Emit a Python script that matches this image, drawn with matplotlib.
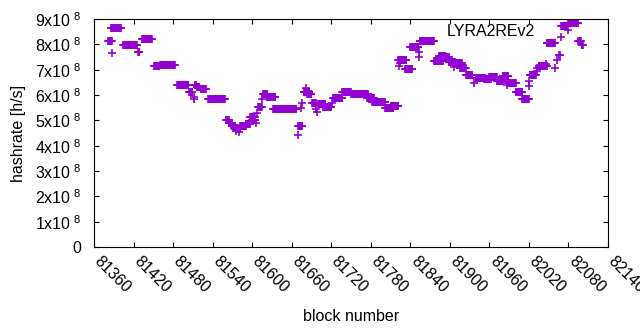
import matplotlib
matplotlib.use('Agg')
import matplotlib.pyplot as plt
import matplotlib.transforms as mtransforms
import numpy as np

plt.rcParams['font.family'] = ['Liberation Sans', 'DejaVu Sans']
plt.rcParams['font.size'] = 11.5

# участки с одинаковым хешрейтом: первый блок, последний блок, хешрейт (x1e8 h/s)
seg_first = [81382, 81388, 81386, 81404, 81427, 81433, 81451, 81460, 81486, 81504,
             81511, 81511, 81513, 81516, 81522, 81533, 81561, 81565, 81569, 81573,
             81575, 81578, 81580, 81582, 81590, 81597, 81600, 81606, 81608, 81609,
             81615, 81617, 81622, 81632, 81670, 81670, 81674, 81676, 81678, 81681,
             81683, 81691, 81697, 81698, 81700, 81708, 81721, 81723, 81737, 81750,
             81775, 81782, 81802, 81810, 81822, 81823, 81824, 81832, 81840, 81853,
             81853, 81854, 81876, 81883, 81886, 81898, 81907, 81908, 81916, 81925,
             81936, 81939, 81952, 81960, 81971, 81980, 81987, 81989, 82000, 82010,
             82020, 82020, 82021, 82032, 82033, 82035, 82046, 82047, 82060, 82063,
             82066, 82069, 82069, 82080, 82095, 82100]
seg_last = [81387, 81388, 81401, 81425, 81429, 81448, 81459, 81483, 81503, 81509,
            81511, 81511, 81515, 81520, 81530, 81559, 81565, 81569, 81574, 81578,
            81575, 81582, 81580, 81590, 81596, 81604, 81605, 81606, 81608, 81615,
            81615, 81623, 81635, 81667, 81676, 81670, 81674, 81676, 81687, 81681,
            81690, 81697, 81697, 81698, 81711, 81720, 81721, 81737, 81750, 81776,
            81785, 81801, 81814, 81822, 81834, 81823, 81824, 81843, 81852, 81853,
            81853, 81876, 81889, 81893, 81898, 81908, 81907, 81918, 81924, 81934,
            81936, 81954, 81962, 81971, 81980, 81989, 81987, 82000, 82010, 82020,
            82020, 82020, 82030, 82032, 82033, 82047, 82046, 82059, 82060, 82063,
            82067, 82069, 82078, 82094, 82099, 82102]
seg_rate = [8.13, 7.66, 8.64, 7.98, 7.70, 8.21, 7.14, 7.19, 6.40, 6.10,
            5.94, 5.85, 6.40, 6.31, 6.23, 5.84, 5.00, 4.91, 4.78, 4.71,
            4.56, 4.66, 4.55, 4.79, 4.86, 5.13, 5.00, 4.90, 5.28, 5.51,
            5.84, 6.05, 5.93, 5.44, 4.79, 4.43, 5.49, 5.70, 6.10, 6.27,
            6.05, 5.68, 5.44, 5.31, 5.64, 5.51, 5.70, 5.89, 6.10, 6.03,
            5.90, 5.74, 5.48, 5.58, 7.39, 7.15, 7.26, 7.04, 7.89, 7.68,
            7.51, 8.15, 7.35, 7.52, 7.49, 7.32, 7.10, 7.28, 7.05, 6.80,
            6.47, 6.67, 6.62, 6.73, 6.55, 6.74, 6.40, 6.47, 6.13, 5.84,
            6.36, 6.57, 6.77, 6.93, 7.05, 7.13, 7.24, 8.04, 7.05, 7.40,
            7.59, 8.30, 8.73, 8.84, 8.15, 7.96]

x_ticks = list(range(81360, 82141, 60))
y_ticks = [k * 1e8 for k in range(10)]
y_labels = ['0'] + [r'$\mathregular{%dx10^{\ 8}}$' % k for k in range(1, 10)]

# один блок - одна точка
blocks = []
rates = []
for b0, b1, r in zip(seg_first, seg_last, seg_rate):
    for b in range(b0, b1 + 1):
        blocks.append(b)
        rates.append(r * 1e8)

fig = plt.figure(figsize=(6.4, 3.3), dpi=100)
ax = fig.add_axes([94 / 640, 1 - 247 / 330, 514 / 640, 228 / 330])

ax.plot(blocks, rates, '+', color='#9400D3', ms=5.2, mew=1.2, label='LYRA2REv2')

ax.set_xlim(81360, 82140)
ax.set_ylim(0, 9e8)
ax.set_xticks(x_ticks)
ax.set_xticklabels([])
# подписи оси X повёрнуты как в gnuplot
lab_tr = ax.get_xaxis_transform() + mtransforms.ScaledTranslation(
    8 / 100, -7 / 100, fig.dpi_scale_trans)
for t in x_ticks:
    ax.text(t, 0, str(t), transform=lab_tr, rotation=-45, ha='left', va='top',
            rotation_mode='anchor', clip_on=False)
ax.set_yticks(y_ticks)
ax.set_yticklabels(y_labels)
ax.tick_params(direction='in', length=3.3, width=0.8, top=True, right=True)
ax.tick_params(axis='y', pad=9)
for s in ax.spines.values():
    s.set_linewidth(0.8)

ax.set_xlabel('block number')
ax.xaxis.set_label_coords(0.5, -0.27)
ax.set_ylabel('hashrate [h/s]', labelpad=7)

ax.legend(loc='center right', bbox_to_anchor=(0.953, 0.947), frameon=False,
          markerfirst=False, borderpad=0, borderaxespad=0, handletextpad=1.04,
          handlelength=2)

fig.savefig('out.png', dpi=100)
